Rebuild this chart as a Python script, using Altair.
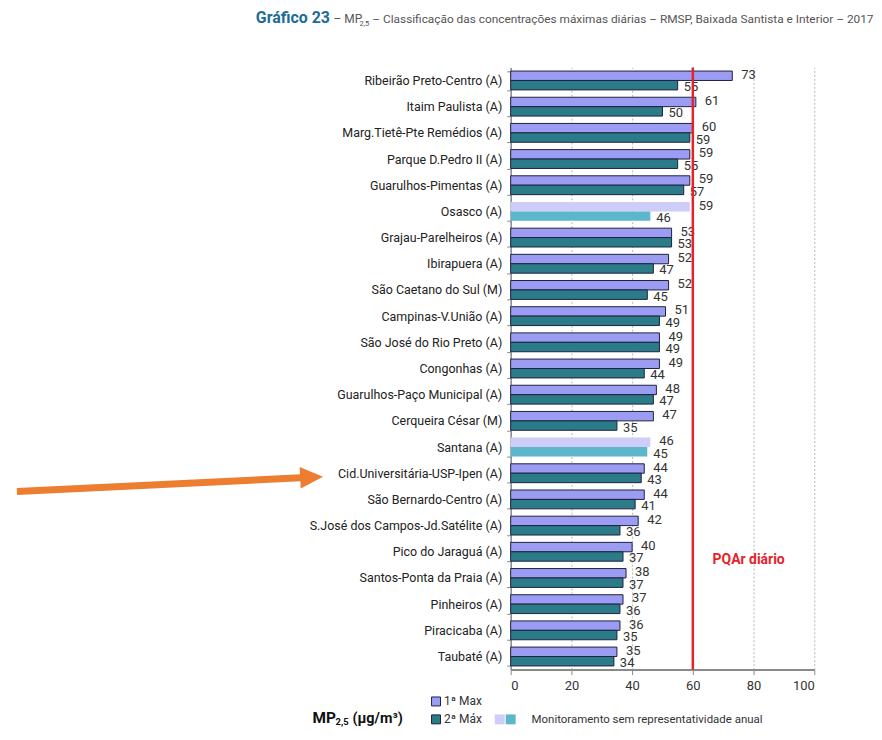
import altair as alt
import pandas as pd

FONT = "Roboto, Liberation Sans, sans-serif"

stations = [
    "Ribeirão Preto-Centro (A)", "Itaim Paulista (A)", "Marg.Tietê-Pte Remédios (A)",
    "Parque D.Pedro II (A)", "Guarulhos-Pimentas (A)", "Osasco (A)",
    "Grajau-Parelheiros (A)", "Ibirapuera (A)", "São Caetano do Sul (M)",
    "Campinas-V.União (A)", "São José do Rio Preto (A)", "Congonhas (A)",
    "Guarulhos-Paço Municipal (A)", "Cerqueira César (M)", "Santana (A)",
    "Cid.Universitária-USP-Ipen (A)", "São Bernardo-Centro (A)",
    "S.José dos Campos-Jd.Satélite (A)", "Pico do Jaraguá (A)",
    "Santos-Ponta da Praia (A)", "Pinheiros (A)", "Piracicaba (A)", "Taubaté (A)",
]
max1 = [73, 61, 60, 59, 59, 59, 53, 52, 52, 51, 49, 49, 48, 47, 46, 44, 44, 42, 40, 38, 37, 36, 35]
max2 = [55, 50, 59, 55, 57, 46, 53, 47, 45, 49, 49, 44, 47, 35, 45, 43, 41, 36, 37, 37, 36, 35, 34]
sem_repr = ["Osasco (A)", "Santana (A)"]

series = ["1ª Max", "2ª Máx"]
kinds = ["1ª Max", "2ª Máx", "1ª Max s/r", "2ª Máx s/r"]
kind_colors = ["#9c9cf3", "#2c7b88", "#cdcdf8", "#5db7ca"]
x_ticks = [0, 20, 40, 60, 80, 100]
limit_value = [60]

rows = []
for s, a, b in zip(stations, max1, max2):
    light = s in sem_repr
    rows.append(dict(station=s, serie=series[0], value=a, light=light,
                     kind=series[0] + (" s/r" if light else "")))
    rows.append(dict(station=s, serie=series[1], value=b, light=light,
                     kind=series[1] + (" s/r" if light else "")))
df = pd.DataFrame(rows)

xs = alt.Scale(domain=[0, 100], nice=False)
x_enc = alt.X("value:Q", scale=xs, axis=alt.Axis(
    title=None, values=x_ticks, grid=True, gridDash=[2, 2], gridColor="#b5b5b5",
    gridWidth=1, labelFont=FONT, labelFontSize=13, labelColor="#333",
    tickSize=5, tickColor="#888", domainColor="#8a8a8a", domainWidth=2,
    labelPadding=5))
y_enc = alt.Y("station:N", sort=stations,
              scale=alt.Scale(paddingInner=0.28, paddingOuter=0.14),
              axis=alt.Axis(title=None, labelFont=FONT, labelFontSize=12.5,
                            labelColor="#222", labelPadding=5, tickBand="extent",
                            tickSize=4, tickColor="#888", domainColor="#8a8a8a",
                            domainWidth=1.5, grid=False, labelLimit=300))
yo_enc = alt.YOffset("serie:N", sort=series,
                     scale=alt.Scale(domain=series, paddingInner=0, paddingOuter=0))

base = alt.Chart(df)

bars = base.mark_bar(stroke="#1c2340", strokeWidth=1).encode(
    x=x_enc, y=y_enc, yOffset=yo_enc,
    fill=alt.Fill("kind:N", scale=alt.Scale(domain=kinds, range=kind_colors), legend=None),
    strokeOpacity=alt.condition("datum.light", alt.value(0), alt.value(1)),
)

lab1 = base.transform_filter(alt.datum.serie == series[0]).mark_text(
    align="left", baseline="middle", dx=9, dy=-1, font=FONT, fontSize=13, color="#333"
).encode(x="value:Q", y=alt.Y("station:N", sort=stations), yOffset=yo_enc, text="value:Q")
lab2 = base.transform_filter(alt.datum.serie == series[1]).mark_text(
    align="left", baseline="middle", dx=6, dy=2, font=FONT, fontSize=13, color="#333"
).encode(x="value:Q", y=alt.Y("station:N", sort=stations), yOffset=yo_enc, text="value:Q")

limit = alt.Chart(pd.DataFrame({"value": limit_value})).mark_rule(
    color="#e5232b", strokeWidth=2.5).encode(x="value:Q")

one = alt.Data(values=[{}])

def txt(text, xv, yv, size=13, color="#333", weight="normal", align="left",
        baseline="alphabetic"):
    return alt.Chart(one).mark_text(
        text=text, align=align, baseline=baseline, font=FONT, fontSize=size,
        color=color, fontWeight=weight
    ).encode(x=alt.value(xv), y=alt.value(yv))

pqar = alt.Chart(one).mark_text(
    text="PQAr diário", align="left", baseline="middle", font=FONT, fontSize=14,
    fontWeight="bold", color="#e5232b"
).encode(x=alt.datum(66.5), y=alt.value(495))

# title
title_layers = [
    txt("Gráfico 23", -256, -45, size=16, color="#1b6d93", weight="bold"),
    txt("– MP", -178, -45, size=12, color="#555"),
    txt("2,5", -152, -42, size=7.5, color="#555"),
    txt("– Classificação das concentrações máximas diárias – RMSP, Baixada Santista e Interior – 2017",
        -139, -45, size=11.9, color="#555"),
]

# arrow
arrow_shaft = alt.Chart(one).mark_rule(color="#ed7d31", strokeWidth=7, strokeCap="butt").encode(
    x=alt.value(-496), y=alt.value(426), x2=alt.value(-206), y2=alt.value(412))
arrow_head = alt.Chart(one).mark_point(
    shape="M-1,-0.95L1,0L-1,0.95Z", filled=True, size=529, angle=357.2,
    color="#ed7d31", opacity=1, strokeWidth=0
).encode(x=alt.value(-200), y=alt.value(411.7))

# legend
def sq(xv, yv, color, stroke=True, size=81):
    return alt.Chart(one).mark_point(
        shape="square", filled=True, size=size, color=color, opacity=1,
        stroke="#1c2340" if stroke else color, strokeWidth=1 if stroke else 0
    ).encode(x=alt.value(xv), y=alt.value(yv))

legend_layers = [
    sq(-75, 637, kind_colors[0]),
    txt("1ª Max", -67, 641, size=12, color="#333"),
    sq(-75, 655, kind_colors[1]),
    txt("2ª Máx", -67, 659, size=12, color="#333"),
    sq(-11, 655, kind_colors[2], stroke=False, size=100),
    sq(0, 655, kind_colors[3], stroke=False, size=100),
    txt("Monitoramento sem representatividade anual", 21, 659, size=11.5, color="#333"),
    txt("MP", -199, 659, size=15.5, color="#111", weight="bold"),
    txt("2,5", -176, 661, size=9.5, color="#111", weight="bold"),
    txt("(µg/m³)", -159, 659, size=14.5, color="#111", weight="bold"),
]

chart = alt.layer(
    bars, lab1, lab2, limit, pqar, arrow_shaft, arrow_head,
    *title_layers, *legend_layers
).properties(
    width=305, height=605,
    padding={"left": 5, "top": 0, "right": 0, "bottom": 0},
    background="white",
).configure_view(stroke=None)

chart.save("out.html", embed_options={"renderer": "svg", "actions": False})
